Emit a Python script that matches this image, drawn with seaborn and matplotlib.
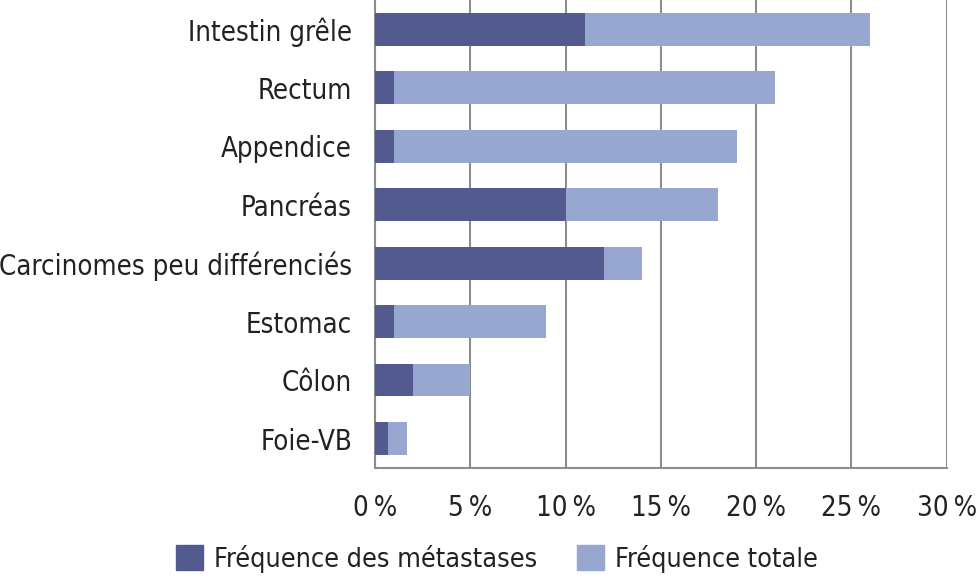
import matplotlib
matplotlib.use('Agg')
import matplotlib.pyplot as plt
import matplotlib.patches as mpatches
import pandas as pd
import seaborn as sns

# Data
categories = ['Intestin grêle', 'Rectum', 'Appendice', 'Pancréas',
              'Carcinomes peu différenciés', 'Estomac', 'Côlon', 'Foie-VB']
freq_metastases = [11, 1, 1, 10, 12, 1, 2, 0.7]
freq_totale = [26, 21, 19, 18, 14, 9, 5, 1.7]
x_ticks = [0, 5, 10, 15, 20, 25, 30]

dark = '#525a8f'
light = '#97a7d0'
grid_col = '#8c8c8c'

df = pd.DataFrame({'cat': categories, 'meta': freq_metastases, 'total': freq_totale})

sns.set_style('white')
plt.rcParams['font.family'] = ['DejaVu Sans']
plt.rcParams['font.stretch'] = 'condensed'

fig = plt.figure(figsize=(9.78, 5.79), dpi=100)
ax = fig.add_axes([0.3834, 0.192, 0.5846, 0.808])

# total first, metastases drawn on top of it
sns.barplot(data=df, x='total', y='cat', color=light, width=0.56,
            saturation=1, linewidth=0, ax=ax, zorder=3)
sns.barplot(data=df, x='meta', y='cat', color=dark, width=0.56,
            saturation=1, linewidth=0, ax=ax, zorder=4)

ax.set_xlim(0, 30)
ax.set_ylim(7.5, -0.5)
ax.set_xticks(x_ticks)
ax.set_xticklabels([f'{t}\u2009%' for t in x_ticks])
ax.set_xlabel('')
ax.set_ylabel('')
ax.xaxis.grid(True, color=grid_col, linewidth=1.5, zorder=0)
ax.yaxis.grid(False)
ax.set_axisbelow(True)

for s in ['top', 'right']:
    ax.spines[s].set_visible(False)
for s in ['left', 'bottom']:
    ax.spines[s].set_color(grid_col)
    ax.spines[s].set_linewidth(1.5)

ax.tick_params(axis='both', length=0, labelsize=19.8, colors='#222222')
ax.tick_params(axis='y', pad=16.5)
ax.tick_params(axis='x', pad=19)

handles = [mpatches.Patch(color=dark, label='Fréquence des métastases'),
           mpatches.Patch(color=light, label='Fréquence totale')]
fig.legend(handles=handles, loc='center', bbox_to_anchor=(0.508, 0.035), ncol=2,
           frameon=False, fontsize=19.4, handlelength=1.0, handleheight=1.0,
           handletextpad=0.4, columnspacing=1.5, labelcolor='#222222')

fig.savefig('out.png', dpi=100)
